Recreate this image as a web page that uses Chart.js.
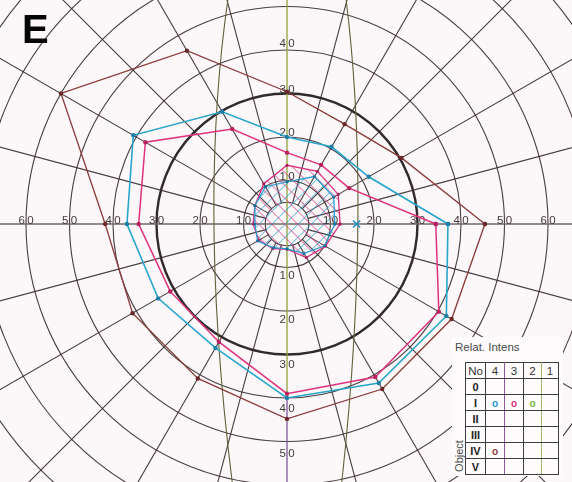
<!DOCTYPE html>
<html>
<head>
<meta charset="utf-8">
<script src="https://cdn.jsdelivr.net/npm/chart.js@4.4.1/dist/chart.umd.min.js"></script>
<style>
  html, body { margin: 0; padding: 0; background: #fcf7f9; }
  #wrap { position: relative; width: 572px; height: 482px; overflow: hidden; background: #fcf7f9; }
  #field { position: absolute; left: 0; top: 0; }
  #eLabel { position: absolute; left: 22px; top: 9px; font: bold 40px "Liberation Sans", Arial, sans-serif; line-height: 40px; color: #050505; }
  #panel { position: absolute; left: 452px; top: 337px; width: 111px; height: 139px; background: #fefbfc; }
  #relat { position: absolute; left: 3px; top: 4px; font: 11.5px "Liberation Sans", Arial, sans-serif; color: #4a4a4a; line-height: 12px; white-space: nowrap; }
  #objLabel { position: absolute; left: -13px; top: 113px; width: 40px; text-align: center; font: 11px "Liberation Sans", Arial, sans-serif; color: #4a4a4a; transform: rotate(-90deg); line-height: 12px; }
  #tbl { position: absolute; left: 13px; top: 25px; border-collapse: collapse; table-layout: fixed; border: 1.6px solid #333; }
  #tbl td, #tbl th { height: 15px; padding: 0; text-align: center; vertical-align: middle; border: 1.3px solid #3e3e3e; font: 11.5px "Liberation Sans", Arial, sans-serif; color: #333; line-height: 12px; }
  #tbl th { font: bold 11px "Liberation Sans Narrow", "Liberation Sans", Arial, sans-serif; color: #222; }
  #tbl .c43 { border-right: 1px solid #8a5a9c; }
  #tbl .c21 { border-right: 1px solid #9cb466; }
  .mk { font: bold 10px "Liberation Sans", Arial, sans-serif; }
</style>
</head>
<body>
<div id="wrap">
  <canvas id="field" width="572" height="482"></canvas>
  <div id="eLabel">E</div>
  <div id="panel">
    <div id="relat">Relat. Intens</div>
    <div id="objLabel">Object</div>
    <table id="tbl">
      <colgroup><col style="width:20px"><col style="width:19px"><col style="width:19px"><col style="width:18px"><col style="width:17px"></colgroup>
      <tr><td>No</td><td class="c43">4</td><td>3</td><td class="c21">2</td><td>1</td></tr>
      <tr><th>0</th><td class="c43"></td><td></td><td class="c21"></td><td></td></tr>
      <tr><th>I</th><td class="c43"><span class="mk" style="color:#2596cf">o</span></td><td><span class="mk" style="color:#d8307e">o</span></td><td class="c21"><span class="mk" style="color:#7cb444">o</span></td><td></td></tr>
      <tr><th>II</th><td class="c43"></td><td></td><td class="c21"></td><td></td></tr>
      <tr><th>III</th><td class="c43"></td><td></td><td class="c21"></td><td></td></tr>
      <tr><th>IV</th><td class="c43"><span class="mk" style="color:#8b3a3a">o</span></td><td></td><td class="c21"></td><td></td></tr>
      <tr><th>V</th><td class="c43"></td><td></td><td class="c21"></td><td></td></tr>
    </table>
  </div>
</div>
<script>
// Meridians (degrees, counter-clockwise from the right horizontal) and
// isopter eccentricities (degrees of visual field) on each meridian.
const meridians = [0, 30, 60, 90, 120, 150, 180, 210, 240, 270, 300, 330];
const isopterIV4 = [45.5, 30.4, 26.5, 30.4, 46.0, 60.0, 41.8, 41.0, 41.0, 44.8, 43.8, 43.7];
const isopterI4  = [37.0, 21.7, 20.5, 20.0, 29.8, 40.8, 36.8, 34.2, 32.9, 40.0, 42.2, 42.3];
const isopterI3  = [34.2, 16.5, 15.7, 16.4, 25.2, 37.6, 34.1, 31.0, 31.3, 39.0, 40.6, 40.3];

// Central isopters
const centralMeridians = [0, 30, 60, 90, 120, 150, 180, 210, 240, 270, 300, 330];
const centralCyan    = [11.0, 12.4, 12.6, 9.7, 9.9, 8.5, 7.4, 7.8, 6.3, 5.7, 7.8, 10.0];
const centralMagenta = [12.2, 13.6, 14.0, 13.5, 10.7, 8.5, 7.8, 7.5, 6.5, 5.8, 8.9, 10.2];

// Blind spot mark: [eccentricity, meridian]
const blindSpot = [16.0, 0];

// Ring labels along the axes
const ringLabelsHorizontal = [10, 20, 30, 40, 50, 60];
const ringLabelsUp = [10, 20, 30, 40];
const ringLabelsDown = [10, 20, 30, 40, 50];
const ringRadii = [10, 20, 30, 40, 50, 60, 70, 80, 90];

// Layout of the field on the canvas
const W = 572, H = 482, CX = 287, CY = 224, PX_PER_DEG = 4.35;

function polar(angles, ecc, closed) {
  const pts = angles.map((a, i) => {
    const t = a * Math.PI / 180;
    return { x: ecc[i] * Math.cos(t), y: ecc[i] * Math.sin(t) };
  });
  if (closed) pts.push({ ...pts[0] });
  return pts;
}

function spacedText(ctx, str, x, y) {
  const gap = 2.4;
  const chars = [...str];
  const widths = chars.map(c => ctx.measureText(c).width);
  const total = widths.reduce((a, b) => a + b, 0) + gap * (chars.length - 1);
  let xx = x - total / 2;
  chars.forEach((c, i) => { ctx.fillText(c, xx, y); xx += widths[i] + gap; });
}

function hatch(ctx, pts, color, dir, step) {
  if (!pts.length) return;
  let minX = Infinity, maxX = -Infinity, minY = Infinity, maxY = -Infinity;
  ctx.save();
  ctx.beginPath();
  pts.forEach((p, i) => {
    if (i) ctx.lineTo(p.x, p.y); else ctx.moveTo(p.x, p.y);
    minX = Math.min(minX, p.x); maxX = Math.max(maxX, p.x);
    minY = Math.min(minY, p.y); maxY = Math.max(maxY, p.y);
  });
  ctx.closePath();
  ctx.clip();
  const h = maxY - minY;
  ctx.beginPath();
  for (let t = minX - h - step; t < maxX + h + step; t += step) {
    if (dir > 0) { ctx.moveTo(t, maxY); ctx.lineTo(t + h, minY); }
    else { ctx.moveTo(t, minY); ctx.lineTo(t + h, maxY); }
  }
  ctx.strokeStyle = color;
  ctx.lineWidth = 1;
  ctx.stroke();
  ctx.restore();
}

const perimetryGrid = {
  id: 'perimetryGrid',
  beforeDatasetsDraw(chart) {
    const { ctx } = chart;
    const xs = chart.scales.x, ys = chart.scales.y;
    const cx = xs.getPixelForValue(0), cy = ys.getPixelForValue(0);
    const k = xs.getPixelForValue(1) - cx;
    const P = (deg, r) => {
      const t = deg * Math.PI / 180;
      return [xs.getPixelForValue(r * Math.cos(t)), ys.getPixelForValue(r * Math.sin(t))];
    };
    const gridColor = 'rgba(52,42,44,0.9)';
    ctx.save();

    // rings
    ctx.strokeStyle = gridColor;
    ctx.lineWidth = 1.1;
    [5, ...ringRadii].forEach(r => {
      if (r === 30) return;
      ctx.beginPath();
      ctx.arc(cx, cy, r * k, 0, Math.PI * 2);
      ctx.stroke();
    });
    ctx.beginPath();
    ctx.arc(cx, cy, 30 * k, 0, Math.PI * 2);
    ctx.lineWidth = 2.4;
    ctx.strokeStyle = '#302a2b';
    ctx.stroke();

    // meridian spokes every 15 degrees
    ctx.beginPath();
    for (let a = 0; a < 360; a += 15) {
      if (a % 90 === 0) continue;
      const [x1, y1] = P(a, 5), [x2, y2] = P(a, 120);
      ctx.moveTo(x1, y1); ctx.lineTo(x2, y2);
    }
    ctx.lineWidth = 1.1;
    ctx.strokeStyle = gridColor;
    ctx.stroke();

    // horizontal meridian
    ctx.beginPath();
    ctx.moveTo(chart.chartArea.left, cy); ctx.lineTo(chart.chartArea.right, cy);
    ctx.strokeStyle = '#6e6768';
    ctx.lineWidth = 1.3;
    ctx.stroke();

    // vertical meridian
    const yLow = ys.getPixelForValue(-40);
    ctx.beginPath();
    ctx.moveTo(cx, chart.chartArea.top); ctx.lineTo(cx, yLow);
    ctx.strokeStyle = '#93a23c';
    ctx.lineWidth = 1.3;
    ctx.stroke();
    ctx.beginPath();
    ctx.moveTo(cx, yLow); ctx.lineTo(cx, chart.chartArea.bottom);
    ctx.strokeStyle = '#7d5a9c';
    ctx.stroke();

    // curved guide lines either side of the vertical meridian
    const guides = [
      [[13.6, 51.5], [16.3, 0], [12.6, -59.3]],
      [[-13.6, 51.5], [-16.8, 0], [-12.6, -59.3]]
    ];
    guides.forEach(g => {
      const p = g.map(([gx, gy]) => [xs.getPixelForValue(gx), ys.getPixelForValue(gy)]);
      const c = [2 * p[1][0] - (p[0][0] + p[2][0]) / 2, 2 * p[1][1] - (p[0][1] + p[2][1]) / 2];
      ctx.beginPath();
      ctx.moveTo(p[0][0], p[0][1]);
      ctx.quadraticCurveTo(c[0], c[1], p[2][0], p[2][1]);
      ctx.strokeStyle = '#5f6238';
      ctx.lineWidth = 1.1;
      ctx.stroke();
    });

    // hatching of the central field
    const cyanPts = chart.getDatasetMeta(3).data.map(e => ({ x: e.x, y: e.y }));
    const magPts = chart.getDatasetMeta(4).data.map(e => ({ x: e.x, y: e.y }));
    hatch(ctx, cyanPts, 'rgba(38,160,205,0.85)', 1, 13);
    hatch(ctx, magPts, 'rgba(214,48,126,0.8)', -1, 13);

    // ring labels
    ctx.fillStyle = '#403a3b';
    ctx.font = '11.5px "Liberation Sans", Arial, sans-serif';
    ctx.textAlign = 'left';
    ctx.textBaseline = 'alphabetic';
    ringLabelsHorizontal.forEach(v => {
      spacedText(ctx, String(v), xs.getPixelForValue(-v), cy);
      spacedText(ctx, String(v), xs.getPixelForValue(v), cy);
    });
    ringLabelsUp.forEach(v => spacedText(ctx, String(v), cx, ys.getPixelForValue(v) - (v >= 40 ? 3 : 1)));
    ringLabelsDown.forEach(v => spacedText(ctx, String(v), cx, ys.getPixelForValue(-v) + 11 + (v - 10) / 10));

    ctx.restore();
  }
};

const brown = '#8b3a3a', cyan = '#27a6cc', magenta = '#df327d';

new Chart(document.getElementById('field'), {
  type: 'scatter',
  data: {
    datasets: [
      { label: 'IV/4', data: polar(meridians, isopterIV4, true), showLine: true, borderColor: brown, borderWidth: 1.3,
        pointRadius: 2.2, pointBackgroundColor: '#6a2828', pointBorderWidth: 0 },
      { label: 'I/4', data: polar(meridians, isopterI4, true), showLine: true, borderColor: cyan, borderWidth: 1.6,
        pointRadius: 2.2, pointBackgroundColor: '#1c7fa6', pointBorderWidth: 0 },
      { label: 'I/3', data: polar(meridians, isopterI3, true), showLine: true, borderColor: magenta, borderWidth: 1.5,
        pointRadius: 2.2, pointBackgroundColor: '#b8205e', pointBorderWidth: 0 },
      { label: 'central I/4', data: polar(centralMeridians, centralCyan, true), showLine: true, borderColor: '#2a9fd0', borderWidth: 1.3,
        pointRadius: 1.6, pointBackgroundColor: '#1c6fa0', pointBorderWidth: 0 },
      { label: 'central I/3', data: polar(centralMeridians, centralMagenta, true), showLine: true, borderColor: '#d9307f', borderWidth: 1.3,
        pointRadius: 1.6, pointBackgroundColor: '#b0205e', pointBorderWidth: 0 },
      { label: 'blind spot', data: polar([blindSpot[1]], [blindSpot[0]], false), showLine: false,
        pointStyle: 'crossRot', pointRadius: 5, borderColor: '#2690c4', pointBorderWidth: 1.6 }
    ]
  },
  options: {
    responsive: false,
    animation: false,
    devicePixelRatio: 1,
    layout: { padding: 0, autoPadding: false },
    plugins: { legend: { display: false }, tooltip: { enabled: false } },
    elements: { line: { tension: 0 } },
    scales: {
      x: { type: 'linear', display: false, min: -CX / PX_PER_DEG, max: (W - CX) / PX_PER_DEG },
      y: { type: 'linear', display: false, min: -(H - CY) / PX_PER_DEG, max: CY / PX_PER_DEG }
    }
  },
  plugins: [perimetryGrid]
});
</script>
</body>
</html>
